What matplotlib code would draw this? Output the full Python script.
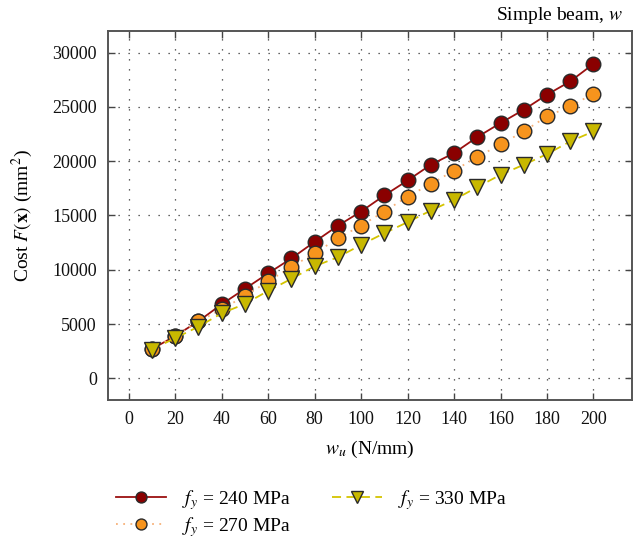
import matplotlib
matplotlib.use("Agg")
import matplotlib.pyplot as plt

plt.rcParams['font.family'] = ['Liberation Serif', 'DejaVu Serif']
plt.rcParams['mathtext.fontset'] = 'stix'

w_u = [10, 20, 30, 40, 50, 60, 70, 80, 90, 100,
       110, 120, 130, 140, 150, 160, 170, 180, 190, 200]
cost_240 = [2690, 3890, 5250, 6815, 8240, 9660, 11040, 12565, 14050, 15360,
            16840, 18220, 19670, 20745, 22220, 23510, 24740, 26125, 27350, 28960]
cost_270 = [2690, 3890, 5250, 6340, 7590, 8920, 10260, 11520, 12880, 14070,
            15360, 16745, 17890, 19140, 20380, 21540, 22740, 24125, 25050, 26220]
cost_330 = [2650, 3700, 4750, 5985, 6845, 8050, 9160, 10320, 11150, 12290,
            13365, 14380, 15450, 16440, 17610, 18745, 19670, 20650, 21820, 22740]

labels = [r"$f_y$ = 240 MPa", r"$f_y$ = 270 MPa", r"$f_y$ = 330 MPa"]
x_ticks = [0, 20, 40, 60, 80, 100, 120, 140, 160, 180, 200]
y_ticks = [0, 5000, 10000, 15000, 20000, 25000, 30000]

fig = plt.figure(figsize=(6.35, 5.42), dpi=100)
ax = fig.add_axes([0.170, 0.262, 0.825, 0.681])

edge = '#2a2a2a'
ax.plot(w_u, cost_240, color='#9b1010', lw=1.3, ls='-', marker='o', ms=10.5,
        mfc='#8a0000', mec=edge, mew=1.0, label=labels[0], zorder=3)
ax.plot(w_u, cost_270, color='#f7b27a', lw=1.3, ls=(0, (1, 3)), marker='o', ms=10.5,
        mfc='#f7941d', mec=edge, mew=1.0, label=labels[1], zorder=4)
ax.plot(w_u, cost_330, color='#d4c400', lw=1.3, ls=(0, (5, 3)), marker='v', ms=11.5,
        mfc='#c8b800', mec=edge, mew=1.0, label=labels[2], zorder=5)

ax.set_xlim(-8.9, 216.5)
ax.set_ylim(-2000, 32000)
ax.set_xticks(x_ticks)
ax.set_yticks(y_ticks)
ax.tick_params(direction='in', length=5, width=1.0, top=True, right=True,
               labelsize=13, colors='#444444', labelcolor='#111111', pad=8)
ax.grid(True, color='#333333', lw=0.9, ls=(0, (1, 7)))
for s in ax.spines.values():
    s.set_linewidth(1.4)
    s.set_color('#555555')

ax.set_xlabel(r"$w_u$ (N/mm)", fontsize=14, labelpad=8)
ax.set_ylabel(r"Cost $F(\mathbf{x})$ (mm$^2$)", fontsize=14, labelpad=12)
fig.text(0.98, 0.972, r"Simple beam, $w$", ha='right', va='center', fontsize=14)

leg = fig.legend(loc='upper left', bbox_to_anchor=(0.155, 0.132), ncol=2,
                 frameon=False, fontsize=14, handlelength=2.6, columnspacing=2.1,
                 handletextpad=0.8, labelspacing=0.15, markerscale=0.75)
fig.savefig("out.png", dpi=100)
